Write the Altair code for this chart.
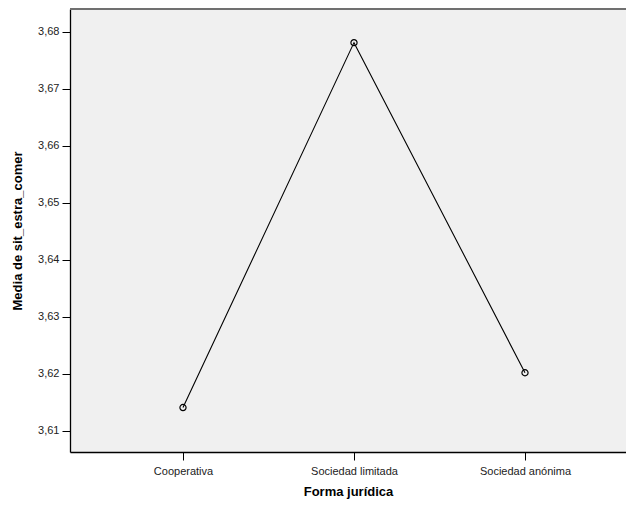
import altair as alt
import pandas as pd

categories = ["Cooperativa", "Sociedad limitada", "Sociedad anónima"]
means = [3.6141, 3.6781, 3.6202]
y_ticks = [3.61, 3.62, 3.63, 3.64, 3.65, 3.66, 3.67, 3.68]

df = pd.DataFrame({"forma": categories, "media": means})

W, H = 556, 443
FONT = "Liberation Sans"

x_scale = alt.Scale(domain=categories, type="point", padding=0.6257, align=0.528)
y_scale = alt.Scale(domain=[3.6063, 3.6840], nice=False, zero=False)

x_axis = alt.Axis(
    title="Forma jurídica", titleFont=FONT, titleFontSize=13, titleFontWeight="bold",
    titleColor="#000000", titlePadding=9, labelFont=FONT, labelFontSize=11,
    labelColor="#222222", labelPadding=5, tickSize=8, tickColor="#000000",
    domainColor="#000000", domainWidth=1.3, grid=False, labelAngle=0,
)
y_axis = alt.Axis(
    title="Media de sit_estra_comer", titleFont=FONT, titleFontSize=13,
    titleFontWeight="bold", titleColor="#000000", titlePadding=13,
    labelFont=FONT, labelFontSize=11, labelColor="#222222", labelPadding=3,
    tickSize=8, tickColor="#000000", domainColor="#000000", domainWidth=1.3,
    grid=False, values=y_ticks,
    labelExpr="replace(format(datum.value, '.2f'), '.', ',')",
)

x_enc = alt.X("forma:N", scale=x_scale, sort=None, axis=x_axis)
y_enc = alt.Y("media:Q", scale=y_scale, axis=y_axis)

line = alt.Chart(df).mark_line(color="#000000", strokeWidth=1.1).encode(x=x_enc, y=y_enc)
points = alt.Chart(df).mark_point(
    shape="circle", filled=False, color="#000000", size=38, strokeWidth=1.2, opacity=1
).encode(x=alt.X("forma:N", scale=x_scale, sort=None), y=alt.Y("media:Q", scale=y_scale))

# grey frame line along the top of the plot area
top_frame = alt.Chart(df).mark_rule(color="#707070", strokeWidth=2).encode(
    y=alt.value(0)
)

chart = (
    alt.layer(line, points, top_frame)
    .properties(
        width=W, height=H,
        autosize=alt.AutoSizeParams(type="none"),
        padding={"left": 62, "top": 1, "right": 0, "bottom": 53},
        background="#ffffff",
    )
    .configure_view(fill="#F0F0F0", stroke=None)
)

chart.save("out.html", embed_options={"renderer": "svg", "actions": False})
